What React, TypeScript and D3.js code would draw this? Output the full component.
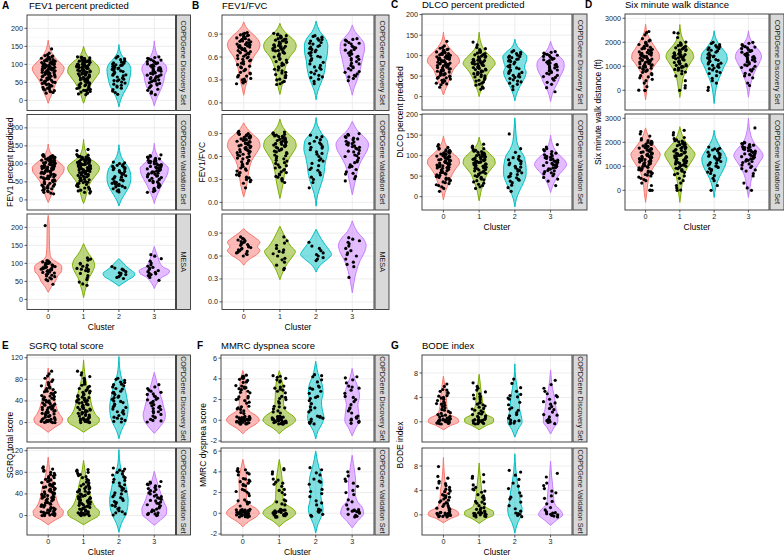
import React from "react";
import * as d3 from "d3";

const clusters = ["0", "1", "2", "3"];
const clusterColors = ["#F8766D", "#7CAE00", "#00BFC4", "#C77CFF"];
const stripLabels = ["COPDGene Discovery Set", "COPDGene Validation Set", "MESA"];

// ---------- A: FEV1 percent predicted ----------
const fev1Ticks = [0, 50, 100, 150, 200];
const fev1DiscDens = [
  [[-8,0],[5,0.1],[20,0.25],[35,0.38],[50,0.5],[65,0.72],[80,0.95],[90,1.0],[100,0.85],[115,0.5],[130,0.25],[145,0.1],[167,0]],
  [[-8,0],[5,0.1],[20,0.2],[35,0.35],[50,0.55],[65,0.8],[80,1.0],[92,0.95],[105,0.7],[120,0.3],[135,0.1],[150,0]],
  [[-18,0],[0,0.1],[20,0.3],[40,0.55],[55,0.65],[70,0.72],[85,0.75],[100,0.65],[115,0.35],[130,0.12],[155,0]],
  [[-15,0],[0,0.1],[20,0.3],[40,0.5],[55,0.6],[70,0.65],[85,0.78],[95,0.75],[110,0.45],[125,0.2],[140,0.08],[165,0]],
];
const fev1DiscPts = [
  [143,131,127,124,123,121,120,120,118,117,116,114,114,113,111,110,110,109,107,106,106,105,104,102,102,101,100,99,98,98,97,96,95,94,94,93,92,91,90,90,89,88,87,86,86,85,84,83,82,82,81,80,79,78,77,77,76,75,73,72,72,71,70,68,67,66,65,64,62,61,60,58,57,56,54,53,51,50,48,47,45,44,42,40,39,37,36,34,32,31,29,27,26,24,22,20],
  [121,120,119,118,116,116,115,114,112,112,111,110,109,108,107,106,106,105,104,103,102,101,100,100,99,98,97,96,95,95,94,93,92,91,90,89,89,88,87,86,85,84,84,83,82,81,80,79,78,77,76,75,74,73,72,71,70,69,67,66,65,64,62,61,60,59,57,56,54,53,52,50,49,47,46,44,43,41,40,38,36,35,33,31,30,28,27,25,23,21,20,18,16],
  [122,118,115,113,109,106,104,103,101,99,98,97,95,94,92,90,88,87,86,83,82,80,78,75,73,71,70,68,65,62,59,57,55,54,51,48,45,42,40,37,34,30,26,22,17],
  [121,119,117,115,113,112,110,108,107,105,104,102,101,99,97,96,95,93,91,90,88,87,85,84,83,81,80,78,76,75,73,71,70,68,66,65,63,61,60,57,55,54,52,49,47,46,43,41,38,35,31,28,24,20,16],
];
const fev1ValDens = [
  [[-7,0],[5,0.12],[20,0.25],[35,0.35],[50,0.5],[65,0.75],[80,0.98],[90,1.0],[100,0.8],[115,0.4],[130,0.15],[155,0]],
  [[-10,0],[5,0.12],[20,0.2],[35,0.3],[50,0.45],[65,0.7],[80,0.95],[90,1.0],[100,0.85],[115,0.4],[135,0.12],[168,0]],
  [[-17,0],[0,0.15],[15,0.35],[30,0.55],[45,0.7],[60,0.75],[75,0.72],[90,0.6],[105,0.35],[120,0.15],[153,0]],
  [[-10,0],[5,0.1],[20,0.25],[40,0.45],[60,0.7],[75,0.85],[88,0.88],[100,0.65],[115,0.3],[130,0.12],[157,0]],
];
const fev1ValPts = [
  [126,124,123,122,121,120,119,119,118,117,116,115,115,114,113,112,111,110,110,109,108,107,106,106,105,104,103,102,102,101,100,99,98,98,97,96,95,94,94,93,92,91,90,90,89,88,87,86,86,85,84,83,82,81,80,80,79,78,77,76,75,74,73,72,71,70,69,68,66,65,64,63,61,60,59,57,56,54,53,51,50,48,46,45,43,41,40,38,36,34,33,31,29,27,25,23,21,19,17],
  [140,137,126,124,122,121,120,119,118,117,116,115,114,113,113,112,111,110,109,108,108,107,106,105,104,103,103,102,101,100,99,98,98,97,96,95,94,93,93,92,91,90,89,88,88,87,86,85,84,83,82,81,80,79,78,77,76,75,74,73,72,71,70,68,67,66,64,63,62,60,59,57,56,54,53,51,49,48,46,44,43,41,39,37,35,33,31,29,27,25,23,21,19],
  [105,103,101,98,96,95,93,91,89,88,86,84,81,79,77,74,72,70,67,65,63,61,58,56,55,53,51,49,47,46,44,43,41,40,38,36,34,31,28,25,22],
  [125,123,121,119,117,115,114,112,110,109,107,106,104,103,101,100,98,97,96,94,93,91,90,88,87,86,84,83,81,80,78,77,75,74,72,71,69,67,66,64,62,60,58,56,54,52,50,48,45,43,40,38,35,32,29,26,23,21],
];
const fev1MesaDens = [
  [[20,0],[35,0.2],[50,0.45],[65,0.6],[80,0.85],[92,0.85],[102,0.6],[112,0.25],[125,0.12],[150,0.08],[180,0.07],[210,0.06],[233,0]],
  [[5,0],[20,0.07],[40,0.2],[60,0.35],[80,0.6],[95,0.7],[110,0.6],[125,0.35],[140,0.15],[155,0]],
  [[37,0],[45,0.25],[55,0.6],[65,0.95],[72,1.0],[80,0.8],[90,0.5],[100,0.3],[113,0]],
  [[30,0],[40,0.1],[50,0.25],[62,0.5],[72,0.9],[80,0.95],[90,0.55],[102,0.35],[115,0.25],[130,0.12],[147,0]],
];
const fev1MesaPts = [
  [205,108,106,104,103,101,100,99,97,96,95,94,92,91,90,89,88,87,86,85,84,83,82,80,79,78,76,75,73,71,69,67,65,63,60,57,55,52,42],
  [115,112,109,100,98,95,92,88,86,84,83,80,78,72,66,60,55,48,43,39],
  [91,87,84,81,77,74,72,69,67,63,61,58],
  [124,120,113,106,101,96,92,89,86,83,80,77,75,73,71,69,66,61,53],
];

// ---------- B: FEV1/FVC ----------
const ratioTicks = [0, 0.3, 0.6, 0.9];
const ratioDiscDens = [
  [[0.1,0],[0.2,0.1],[0.3,0.22],[0.4,0.3],[0.5,0.4],[0.6,0.6],[0.7,0.92],[0.76,1.0],[0.85,0.8],[0.92,0.45],[1.0,0.12],[1.06,0]],
  [[0.11,0],[0.2,0.1],[0.3,0.2],[0.4,0.27],[0.5,0.38],[0.6,0.6],[0.7,0.95],[0.75,1.0],[0.82,0.85],[0.9,0.45],[0.97,0.15],[1.04,0]],
  [[0.04,0],[0.15,0.1],[0.25,0.28],[0.35,0.45],[0.45,0.55],[0.55,0.6],[0.65,0.7],[0.75,0.72],[0.85,0.55],[0.93,0.25],[1.07,0]],
  [[0.1,0],[0.2,0.12],[0.3,0.3],[0.4,0.45],[0.5,0.55],[0.6,0.65],[0.7,0.75],[0.78,0.72],[0.86,0.45],[0.93,0.18],[1.02,0]],
];
const ratioDiscPts = [
  [0.92,0.91,0.9,0.89,0.885,0.88,0.87,0.865,0.86,0.85,0.845,0.84,0.83,0.825,0.82,0.81,0.805,0.8,0.79,0.785,0.78,0.77,0.765,0.76,0.75,0.745,0.74,0.73,0.725,0.72,0.71,0.705,0.7,0.69,0.685,0.68,0.67,0.66,0.655,0.65,0.64,0.63,0.62,0.61,0.6,0.59,0.58,0.57,0.56,0.55,0.54,0.52,0.51,0.5,0.48,0.47,0.46,0.44,0.43,0.42,0.4,0.39,0.38,0.36,0.35,0.34,0.32,0.31,0.3,0.28,0.27,0.26,0.25],
  [0.91,0.9,0.89,0.88,0.875,0.87,0.86,0.855,0.85,0.84,0.835,0.83,0.82,0.815,0.81,0.8,0.795,0.79,0.78,0.775,0.77,0.76,0.755,0.75,0.74,0.735,0.73,0.72,0.715,0.71,0.7,0.69,0.685,0.68,0.67,0.66,0.65,0.64,0.63,0.62,0.61,0.6,0.58,0.57,0.56,0.54,0.53,0.52,0.5,0.49,0.47,0.46,0.44,0.43,0.42,0.4,0.39,0.37,0.36,0.34,0.33,0.31,0.3,0.28,0.27,0.25,0.24],
  [0.88,0.87,0.86,0.84,0.83,0.82,0.81,0.79,0.78,0.77,0.75,0.74,0.73,0.71,0.7,0.69,0.67,0.66,0.65,0.62,0.61,0.6,0.58,0.56,0.55,0.53,0.51,0.49,0.47,0.46,0.44,0.42,0.4,0.38,0.36,0.34,0.33,0.31,0.28,0.25],
  [0.84,0.83,0.82,0.81,0.79,0.78,0.77,0.76,0.74,0.73,0.72,0.7,0.69,0.68,0.66,0.65,0.64,0.62,0.61,0.6,0.58,0.57,0.56,0.54,0.52,0.51,0.49,0.47,0.46,0.45,0.43,0.41,0.4,0.38,0.36,0.35,0.34,0.32,0.29],
];
const ratioValDens = [
  [[0.07,0],[0.15,0.1],[0.25,0.2],[0.35,0.27],[0.45,0.35],[0.55,0.5],[0.65,0.8],[0.74,1.0],[0.82,0.9],[0.9,0.5],[0.97,0.2],[1.04,0]],
  [[0.05,0],[0.15,0.1],[0.25,0.2],[0.35,0.27],[0.45,0.35],[0.55,0.5],[0.65,0.8],[0.74,1.0],[0.82,0.9],[0.9,0.5],[0.98,0.2],[1.09,0]],
  [[-0.05,0],[0.1,0.1],[0.2,0.25],[0.3,0.4],[0.4,0.5],[0.5,0.55],[0.6,0.65],[0.7,0.75],[0.8,0.7],[0.9,0.35],[1.0,0.1],[1.11,0]],
  [[0.1,0],[0.2,0.1],[0.3,0.2],[0.4,0.3],[0.5,0.45],[0.6,0.7],[0.7,0.95],[0.76,1.0],[0.84,0.8],[0.92,0.4],[1.06,0]],
];
const ratioValPts = [
  [0.93,0.91,0.9,0.895,0.89,0.88,0.875,0.87,0.86,0.855,0.85,0.84,0.835,0.83,0.82,0.815,0.81,0.8,0.795,0.79,0.78,0.775,0.77,0.76,0.755,0.75,0.74,0.735,0.73,0.72,0.715,0.71,0.7,0.695,0.69,0.68,0.67,0.665,0.66,0.65,0.64,0.63,0.62,0.61,0.6,0.59,0.58,0.57,0.55,0.54,0.53,0.51,0.5,0.48,0.47,0.45,0.44,0.42,0.41,0.39,0.38,0.36,0.35,0.33,0.32,0.3,0.29,0.27,0.25,0.19],
  [0.92,0.91,0.9,0.89,0.885,0.88,0.87,0.865,0.86,0.85,0.845,0.84,0.83,0.825,0.82,0.81,0.805,0.8,0.79,0.785,0.78,0.77,0.765,0.76,0.75,0.745,0.74,0.73,0.72,0.71,0.7,0.69,0.68,0.67,0.66,0.65,0.64,0.62,0.61,0.6,0.58,0.57,0.55,0.54,0.52,0.51,0.49,0.48,0.46,0.45,0.43,0.42,0.4,0.39,0.37,0.36,0.34,0.33,0.31,0.3,0.28,0.26],
  [0.88,0.86,0.85,0.82,0.8,0.78,0.77,0.76,0.73,0.72,0.71,0.69,0.66,0.64,0.63,0.6,0.57,0.55,0.54,0.51,0.48,0.45,0.43,0.42,0.39,0.36,0.33,0.3,0.26,0.19],
  [0.9,0.89,0.88,0.86,0.85,0.84,0.83,0.82,0.8,0.79,0.78,0.77,0.76,0.75,0.74,0.73,0.72,0.71,0.7,0.68,0.67,0.66,0.64,0.62,0.61,0.6,0.58,0.55,0.53,0.52,0.49,0.47,0.46,0.43,0.4,0.38,0.37,0.34,0.31,0.28],
];
const ratioMesaDens = [
  [[0.48,0],[0.55,0.3],[0.62,0.8],[0.67,1.0],[0.72,0.85],[0.78,1.0],[0.84,0.7],[0.9,0.3],[0.96,0]],
  [[0.29,0],[0.4,0.2],[0.5,0.45],[0.6,0.8],[0.66,0.95],[0.72,0.7],[0.8,0.45],[0.9,0.2],[0.99,0]],
  [[0.39,0],[0.48,0.25],[0.56,0.7],[0.62,0.95],[0.68,0.8],[0.75,0.55],[0.83,0.3],[0.95,0]],
  [[0.12,0],[0.25,0.1],[0.4,0.25],[0.55,0.5],[0.65,0.75],[0.74,0.85],[0.82,0.7],[0.92,0.3],[1.06,0]],
];
const ratioMesaPts = [
  [0.85,0.83,0.82,0.81,0.8,0.79,0.78,0.77,0.76,0.75,0.74,0.73,0.72,0.71,0.7,0.69,0.68,0.67,0.66,0.65,0.64,0.63,0.62,0.6],
  [0.85,0.8,0.77,0.74,0.7,0.68,0.66,0.65,0.63,0.6,0.57,0.55,0.52,0.48,0.44,0.42],
  [0.78,0.73,0.7,0.67,0.64,0.62,0.6,0.58,0.56,0.54],
  [0.84,0.82,0.8,0.78,0.76,0.73,0.7,0.67,0.64,0.62,0.6,0.56,0.52,0.49,0.46,0.32],
];

// ---------- C: DLCO percent predicted ----------
const dlcoTicks = [0, 50, 100, 150, 200];
const dlcoDiscDens = [
  [[4,0],[15,0.1],[30,0.25],[45,0.4],[55,0.5],[65,0.6],[75,0.8],[85,1.0],[95,0.95],[105,0.7],[120,0.35],[135,0.12],[157,0]],
  [[0,0],[15,0.1],[30,0.25],[45,0.4],[60,0.6],[72,0.85],[80,1.0],[90,0.9],[100,0.65],[115,0.3],[130,0.12],[157,0]],
  [[-10,0],[5,0.1],[20,0.25],[35,0.45],[50,0.65],[60,0.7],[72,0.6],[85,0.7],[97,0.75],[108,0.55],[120,0.2],[140,0]],
  [[-12,0],[5,0.1],[20,0.25],[35,0.45],[50,0.6],[65,0.8],[78,0.85],[90,0.75],[100,0.5],[115,0.2],[135,0]],
];
const dlcoDiscPts = [
  [135,124,120,118,116,115,113,112,110,109,108,107,106,105,104,103,102,101,100,99,98,97,96,95,94,93,92,91,90,89,88,87,86,85,84,83,82,81,80,79,78,77,76,75,73,72,71,70,68,67,66,64,63,62,60,59,57,56,55,53,52,50,49,47,46,45,43,41,40,38,36,34,33,31,29,23],
  [133,126,120,117,115,112,111,109,108,106,105,103,102,101,99,98,97,96,94,93,92,91,90,89,88,87,86,85,84,83,82,81,80,79,78,77,76,75,74,73,72,71,70,69,67,66,65,63,62,60,59,57,56,54,53,51,49,48,46,44,42,40,38,36,33,30,28,24,21,18],
  [112,109,108,105,104,101,99,98,96,95,92,91,89,87,86,84,80,77,74,72,70,68,65,63,61,59,57,55,52,50,48,47,44,41,38,36,33,30,25,17],
  [110,108,106,104,103,101,100,98,96,94,93,91,90,88,86,84,82,80,79,77,75,73,71,70,67,65,63,61,59,57,55,52,49,47,44,40,35,30,22,12],
];
const dlcoValDens = [
  [[-8,0],[10,0.1],[25,0.25],[40,0.4],[55,0.55],[70,0.8],[82,1.0],[92,0.95],[105,0.6],[120,0.25],[148,0]],
  [[-10,0],[10,0.1],[25,0.2],[40,0.35],[55,0.5],[70,0.8],[82,1.0],[92,0.95],[105,0.65],[120,0.25],[145,0]],
  [[-25,0],[-5,0.1],[15,0.3],[35,0.55],[55,0.7],[70,0.7],[85,0.65],[100,0.55],[115,0.3],[135,0.12],[160,0.06],[192,0]],
  [[10,0],[25,0.12],[40,0.3],[55,0.55],[68,0.85],[78,1.0],[90,0.85],[105,0.45],[120,0.2],[150,0]],
];
const dlcoValPts = [
  [127,123,120,118,116,114,113,111,110,108,107,106,105,104,103,101,100,99,98,97,96,95,94,93,92,91,90,89,88,87,86,85,84,83,82,81,80,79,78,77,76,75,74,73,72,71,70,69,67,66,65,63,62,61,59,58,56,55,53,52,50,49,47,45,44,42,40,38,36,34,32,29,27,24,20,13],
  [128,123,120,117,115,113,111,110,108,107,106,104,103,102,101,100,99,98,97,96,95,94,93,92,91,90,89,88,87,86,85,84,83,82,81,80,79,78,77,76,75,74,73,72,70,69,68,66,65,63,62,60,58,57,55,53,51,49,47,45,43,41,39,36,33,30,27,24,20],
  [153,117,108,98,95,92,90,88,86,82,80,78,74,72,70,66,64,62,58,56,54,50,48,46,42,40,38,34,28,22,13],
  [127,121,117,115,112,110,106,104,102,100,98,96,95,93,92,90,89,87,86,84,83,81,80,78,77,76,74,72,71,70,68,67,64,63,61,58,56,55,51,47,43,38,27],
];

// ---------- D: Six minute walk distance ----------
const walkTicks = [0, 1000, 2000, 3000];
const walkDiscDens = [
  [[-400,0],[0,0.08],[400,0.15],[800,0.35],[1100,0.65],[1350,0.9],[1500,0.88],[1700,0.7],[2000,0.4],[2300,0.15],[2760,0]],
  [[-300,0],[100,0.1],[500,0.2],[900,0.45],[1200,0.75],[1400,0.9],[1600,0.8],[1900,0.4],[2200,0.15],[2740,0]],
  [[-550,0],[-100,0.08],[300,0.2],[700,0.45],[1000,0.65],[1300,0.85],[1500,0.8],[1800,0.45],[2100,0.15],[2480,0]],
  [[-290,0],[200,0.12],[600,0.3],[900,0.5],[1200,0.75],[1400,0.85],[1600,0.75],[1900,0.35],[2150,0.12],[2480,0]],
];
const walkDiscPts = [
  [2450,2400,2310,2150,2090,2060,2000,1970,1940,1910,1890,1860,1830,1790,1770,1750,1730,1710,1680,1650,1630,1600,1580,1570,1540,1520,1500,1470,1450,1440,1420,1400,1380,1370,1340,1320,1300,1270,1250,1240,1220,1200,1180,1170,1140,1120,1100,1080,1060,1030,1010,1000,970,950,920,890,870,850,820,790,750,700,650,610,560,520,460,400,300,150,0,-10,5],
  [2400,2380,2200,2010,1980,1950,1920,1900,1880,1860,1830,1790,1770,1750,1720,1700,1680,1660,1630,1600,1580,1560,1540,1510,1490,1480,1460,1430,1410,1400,1380,1370,1350,1320,1300,1280,1260,1230,1210,1200,1180,1160,1130,1100,1070,1040,1020,1000,980,960,930,900,870,840,800,760,690,600,400,200,100,0],
  [2000,1950,1900,1860,1830,1800,1770,1740,1700,1670,1640,1590,1560,1500,1460,1430,1400,1370,1350,1310,1280,1250,1220,1200,1160,1130,1100,1070,1040,1000,960,930,900,850,790,740,700,610,500,400,300,120,0],
  [2000,1960,1900,1850,1820,1800,1770,1740,1700,1670,1650,1620,1590,1550,1520,1500,1470,1440,1400,1380,1360,1330,1300,1270,1250,1210,1180,1150,1100,1060,1030,1000,950,890,850,800,710,650,600,520,300,200],
];
const walkValDens = [
  [[-500,0],[-100,0.08],[300,0.15],[700,0.3],[1000,0.55],[1300,0.85],[1500,0.95],[1700,0.75],[2000,0.4],[2300,0.15],[2600,0]],
  [[-500,0],[-100,0.08],[300,0.15],[700,0.3],[1000,0.55],[1300,0.85],[1500,0.98],[1700,0.8],[2000,0.4],[2300,0.15],[2650,0]],
  [[-300,0],[100,0.1],[500,0.3],[800,0.55],[1100,0.75],[1300,0.8],[1500,0.7],[1800,0.4],[2100,0.15],[2500,0]],
  [[-300,0],[100,0.1],[500,0.2],[900,0.45],[1200,0.75],[1450,0.95],[1650,0.8],[1950,0.4],[2300,0.15],[3000,0]],
];
const walkValPts = [
  [2450,2350,2260,2150,2100,2070,2040,2000,1980,1950,1930,1910,1880,1850,1830,1800,1780,1760,1740,1720,1700,1690,1670,1640,1620,1600,1580,1560,1540,1510,1500,1480,1460,1440,1420,1400,1390,1370,1350,1320,1300,1280,1270,1250,1230,1200,1180,1160,1140,1110,1100,1080,1060,1040,1020,1000,980,960,940,910,880,860,840,800,770,750,720,700,660,630,600,550,500,450,400,300,200,0,0,10],
  [2500,2400,2310,2200,2150,2100,2070,2050,2020,2000,1970,1950,1920,1900,1880,1860,1830,1800,1780,1750,1730,1700,1680,1660,1630,1600,1580,1560,1540,1520,1500,1470,1450,1440,1420,1400,1380,1360,1330,1310,1280,1260,1240,1220,1200,1180,1160,1140,1120,1100,1080,1050,1030,1000,980,950,920,900,860,830,800,750,700,650,600,500,400,300,200,100,0,10],
  [1800,1750,1730,1710,1680,1650,1590,1550,1510,1480,1450,1420,1400,1370,1350,1310,1280,1250,1200,1160,1130,1100,1050,1010,980,950,900,860,800,760,700,610,500,400,200,0],
  [2600,2000,1980,1950,1930,1910,1880,1850,1820,1800,1780,1760,1730,1700,1680,1650,1630,1610,1580,1550,1520,1500,1480,1460,1430,1400,1380,1350,1330,1310,1280,1250,1220,1200,1160,1100,1050,1000,950,900,850,800,700,600,300,100,0],
];

// ---------- E: SGRQ total score ----------
const sgrqTicks = [0, 40, 80, 120];
const sgrqDiscDens = [
  [[-18,0],[-8,0.45],[0,0.85],[7,0.9],[15,0.72],[25,0.55],[40,0.42],[55,0.3],[70,0.15],[85,0.08],[101,0]],
  [[-18,0],[-8,0.5],[0,0.95],[6,1.0],[15,0.75],[25,0.58],[40,0.45],[55,0.35],[70,0.2],[90,0.08],[116,0]],
  [[-30,0],[-15,0.15],[0,0.4],[15,0.55],[30,0.58],[45,0.5],[60,0.4],[75,0.25],[90,0.1],[122,0]],
  [[-20,0],[-8,0.35],[5,0.65],[15,0.7],[25,0.62],[40,0.5],[55,0.35],[70,0.2],[93,0]],
];
const sgrqDiscPts = [
  [95,90,86,82,79,76,74,72,70,68,66,64,63,61,60,58,57,56,54,53,52,50,49,48,47,45,44,43,42,41,40,39,38,37,36,35,34,33,32,31,30,29,28,27,26,25,24,23,22,21,20,19,18,17,16,15,14,13,12,11,10,9,8,7,6,6,5,4,4,3,3,2,2,1,1,0.5,0,0],
  [95,92,88,85,82,79,76,74,71,69,67,65,63,61,59,58,56,55,53,52,51,50,48,47,46,45,43,42,41,40,39,38,37,36,35,34,33,32,31,30,29,28,27,26,25,24,23,22,21,20,19,18,17,16,15,14,13,12,11,10,9,8,7,6,5,5,4,3,3,2,2,1,1,0,0],
  [82,80,78,75,74,71,70,68,66,63,62,58,56,55,52,49,47,46,43,40,39,37,34,31,29,28,25,22,20,19,16,13,10,8,7,4,2,1],
  [70,66,63,60,58,56,53,52,49,48,45,43,42,39,37,36,33,31,30,28,26,24,21,20,18,15,12,10,9,6,4,3,1],
];
const sgrqValDens = [
  [[-17,0],[-8,0.45],[0,0.9],[8,0.95],[15,0.75],[25,0.58],[40,0.45],[55,0.35],[70,0.2],[85,0.1],[108,0]],
  [[-17,0],[-8,0.5],[0,0.95],[7,1.0],[15,0.75],[25,0.55],[40,0.4],[55,0.3],[70,0.18],[85,0.08],[102,0]],
  [[-31,0],[-15,0.15],[0,0.4],[15,0.55],[30,0.58],[45,0.5],[60,0.4],[75,0.25],[90,0.1],[122,0]],
  [[-18,0],[-8,0.4],[2,0.75],[12,0.78],[25,0.6],[40,0.42],[55,0.25],[70,0.1],[82,0]],
];
const sgrqValPts = [
  [90,88,86,84,82,80,78,76,75,73,72,70,69,67,66,64,63,61,60,59,58,57,56,55,54,53,52,51,50,49,48,47,46,45,44,43,42,41,40,39,38,37,36,35,34,33,32,31,30,29,28,27,26,25,24,23,22,21,20,19,18,17,16,15,14,13,12,11,10,9,8,7,6,5,5,4,4,3,3,2,2,1,1,0,0,0],
  [85,84,82,80,78,76,74,72,70,67,65,62,60,58,57,55,54,53,51,50,49,48,46,45,44,43,42,41,40,39,38,37,36,35,34,33,32,31,30,29,28,27,26,25,24,23,22,21,20,19,18,17,16,15,14,13,12,11,10,9,8,7,6,5,4,4,3,3,2,2,1,1,0,0],
  [88,86,84,82,80,77,75,72,70,67,65,62,60,57,55,52,50,47,45,42,40,38,35,33,31,28,26,24,22,19,17,14,12,9,7,5,3,1],
  [63,62,60,58,57,55,54,52,50,48,46,44,42,40,38,36,35,33,32,30,28,27,25,23,22,20,18,16,14,12,10,9,7,5,4,3,2,1,0],
];

// ---------- F: MMRC dyspnea score ----------
const mmrcTicks = [-2, 0, 2, 4, 6];
const mmrcDiscDens = [
  [[-1.3,0],[-0.8,0.35],[-0.3,0.85],[0,1.0],[0.4,0.85],[0.9,0.38],[1.5,0.22],[2.5,0.2],[3.5,0.18],[4.2,0.1],[4.8,0]],
  [[-1.3,0],[-0.8,0.35],[-0.3,0.85],[0,1.0],[0.4,0.85],[0.9,0.42],[1.5,0.27],[2.5,0.24],[3.5,0.2],[4.2,0.1],[4.8,0]],
  [[-1.8,0],[-1,0.15],[-0.3,0.4],[0.3,0.5],[1,0.4],[1.8,0.35],[2.6,0.45],[3.4,0.4],[4.2,0.2],[5.7,0]],
  [[-1.5,0],[-0.8,0.2],[0,0.45],[0.8,0.4],[1.5,0.35],[2.3,0.45],[3.2,0.35],[4,0.15],[5,0]],
];
const mmrcDiscPts = [
  [4.35,4.2,4.1,3.95,3.85,3.7,4.25,3.65,4.05,3.35,3.2,3.1,2.95,2.8,2.7,3.3,3.05,2.65,3.15,2.3,2.15,2.0,1.9,1.75,2.25,1.65,2.05,1.35,1.2,1.05,0.9,0.75,1.3,0.65,1.1,0.38,0.3,0.22,0.15,0.08,0.02,-0.05,-0.12,-0.2,-0.28,-0.35,0.33,0.25,0.18,0.1,0.04,-0.02,-0.09,-0.16,-0.24,-0.31,-0.38,0.28,0.12,-0.07,-0.22,0.36,0.06,-0.14,-0.33],
  [4.3,4.15,3.9,4.05,3.7,4.25,3.8,3.2,3.0,2.8,2.65,3.3,3.1,2.9,2.3,2.0,1.8,2.2,1.65,2.1,1.3,1.1,0.8,0.9,1.2,0.7,1.35,0.38,0.3,0.22,0.15,0.08,0.02,-0.05,-0.12,-0.2,-0.28,-0.35,0.33,0.25,0.18,0.1,0.04,-0.02,-0.09,-0.16,-0.24,-0.31,-0.38,0.28,0.12,-0.07,-0.22,0.36,0.06,-0.14,-0.33],
  [4.4,4.2,3.9,3.7,4.3,3.3,3.1,2.8,2.6,3.0,3.2,2.3,2.1,1.9,1.6,2.2,1.2,1.0,0.8,1.3,0.4,0.3,0.1,-0.1,-0.3,0.2,-0.2,0.35,-0.35],
  [4.2,3.9,4.1,3.6,3.3,3.1,2.9,2.6,3.2,2.2,2.0,1.8,2.3,1.5,1.2,0.9,0.7,1.1,0.4,0.2,0.0,-0.2,-0.3,0.3,0.1,-0.1],
];
const mmrcValDens = [
  [[-1.3,0],[-0.8,0.35],[-0.3,0.85],[0,1.0],[0.4,0.85],[0.9,0.38],[1.5,0.22],[2.5,0.22],[3.2,0.24],[4,0.16],[5.2,0]],
  [[-1.3,0],[-0.8,0.35],[-0.3,0.85],[0,1.0],[0.4,0.85],[0.9,0.38],[1.5,0.22],[2.5,0.2],[3.5,0.16],[4.2,0.1],[5.2,0]],
  [[-1.9,0],[-1,0.15],[-0.3,0.35],[0.4,0.45],[1.2,0.35],[2,0.3],[2.8,0.4],[3.6,0.35],[4.4,0.2],[6,0]],
  [[-1.4,0],[-0.8,0.3],[0,0.7],[0.6,0.6],[1.2,0.3],[2,0.2],[3,0.22],[4,0.15],[5.6,0]],
];
const mmrcValPts = [
  [4.3,4.1,3.9,4.0,3.7,4.2,3.8,3.3,3.1,2.9,2.7,3.2,2.8,3.05,2.65,3.35,2.3,2.1,1.9,1.7,2.2,2.05,1.3,1.1,0.9,0.7,1.2,1.05,0.38,0.3,0.22,0.15,0.08,0.02,-0.05,-0.12,-0.2,-0.28,-0.35,0.33,0.25,0.18,0.1,0.04,-0.02,-0.09,-0.16,-0.24,-0.31,-0.38,0.28,0.12,-0.07,-0.22,0.36,0.06,-0.14,-0.33],
  [4.3,4.0,3.8,4.2,3.3,3.0,2.8,2.6,3.2,2.9,2.3,2.0,1.8,2.2,1.3,1.1,0.8,0.9,1.2,0.38,0.3,0.22,0.15,0.08,0.02,-0.05,-0.12,-0.2,-0.28,-0.35,0.33,0.25,0.18,0.1,0.04,-0.02,-0.09,-0.16,-0.24,-0.31,-0.38,0.28,0.12,-0.07,-0.22],
  [4.4,4.2,3.9,3.7,3.3,3.1,2.8,3.0,2.3,2.1,1.9,1.6,1.2,1.0,0.8,0.4,0.3,0.1,-0.1,-0.3,0.2,-0.2],
  [4.3,4.0,3.6,3.3,3.1,2.9,2.6,2.2,2.0,1.8,1.3,1.1,0.8,0.4,0.3,0.2,0.0,-0.2,-0.3,0.1,-0.1,0.25,0.35,-0.35,0.15],
];

// ---------- G: BODE index ----------
const bodeTicks = [0, 4, 8];
const bodeDiscDens = [
  [[-1.3,0],[-0.6,0.45],[0,0.95],[0.5,0.9],[1.2,0.4],[2,0.25],[3,0.2],[4,0.18],[5,0.12],[6,0.08],[7.5,0]],
  [[-1.3,0],[-0.6,0.45],[0,0.9],[0.5,0.9],[1.2,0.45],[2,0.3],[3,0.22],[4,0.18],[5,0.12],[6,0.08],[7.8,0]],
  [[-2.5,0],[-1.2,0.2],[0,0.45],[1,0.4],[2,0.3],[3,0.28],[4,0.25],[5.5,0.15],[7,0.06],[9.5,0]],
  [[-2,0],[-1,0.2],[0,0.45],[1,0.45],[2,0.35],[3,0.3],[4,0.25],[5.5,0.12],[7,0.05],[8.5,0]],
];
const bodeDiscPts = [
  [6.2,5.8,5.3,5.0,4.7,4.3,4.0,3.7,3.3,3.0,2.7,2.3,2.0,1.7,1.4,1.0,0.8,0.5,0.3,0.1,0,-0.2,0.2,0.4,-0.3,0.6,0.15,-0.1,4.2,3.9,3.1,2.9,2.1,1.9,1.2,1.1,0.9,0.35,0.25,-0.05,-0.25,0.05,-0.15,0.3,4.8,5.2,3.5,2.5,1.5,0.7,0.45,-0.35],
  [6.4,5.8,5.2,4.9,4.6,4.2,3.9,3.6,3.2,2.9,2.6,2.2,1.9,1.6,1.3,1.0,0.7,0.5,0.3,0.1,0,-0.2,0.2,-0.3,0.4,4.1,3.8,3.1,2.8,2.1,1.8,1.2,0.9,0.35,0.25,-0.05,-0.25,0.05,-0.15,0.3,5.5,4.4,2.4,1.4,0.8,-0.35],
  [7.0,6.3,5.6,5.0,4.5,4.1,3.7,3.2,2.8,2.3,1.9,1.5,1.0,0.6,0.3,0.1,-0.2,4.3,3.9,2.1,1.2,0.2,-0.1,-0.3],
  [6.8,6.1,5.5,5.0,4.6,4.1,3.7,3.3,2.9,2.5,2.0,1.6,1.2,0.8,0.4,0.2,0,-0.1,4.3,3.1,2.2,1.1,0.3,-0.3],
];
const bodeValDens = [
  [[-1.3,0],[-0.6,0.45],[0,0.95],[0.5,0.9],[1.2,0.4],[2,0.25],[3,0.2],[4,0.18],[5,0.12],[6.5,0.06],[9.4,0]],
  [[-1.4,0],[-0.6,0.45],[0,0.9],[0.5,0.9],[1.2,0.45],[2,0.28],[3,0.2],[4,0.16],[5,0.12],[6.5,0.06],[8.5,0]],
  [[-3,0],[-1.5,0.15],[0,0.4],[1,0.45],[2,0.35],[3,0.3],[4,0.25],[5.5,0.15],[7.5,0.06],[10,0]],
  [[-1.7,0],[-0.8,0.4],[0,0.75],[0.8,0.6],[1.6,0.3],[2.5,0.2],[3.5,0.18],[5,0.12],[6.5,0.06],[8.8,0]],
];
const bodeValPts = [
  [7.9,6.3,6.0,5.5,5.2,4.8,4.5,4.2,3.9,3.5,3.2,2.9,2.6,2.3,2.0,1.7,1.4,1.1,0.8,0.5,0.3,0.1,0,-0.2,0.2,0.4,-0.3,0.15,-0.1,5.1,4.1,3.8,3.1,2.8,2.1,1.9,1.2,0.9,0.35,0.25,-0.05,-0.25,0.05,-0.15,0.3,-0.35,4.4,3.3,2.4,1.5],
  [6.6,6.3,6.0,5.4,4.9,4.5,4.1,3.7,3.3,2.9,2.5,2.1,1.8,1.5,1.2,0.9,0.6,0.3,0.1,0,-0.2,0.2,-0.1,0.4,4.2,3.9,3.1,2.8,2.2,1.9,1.1,0.8,0.35,0.25,-0.05,-0.25,0.05,-0.15,0.3,-0.35],
  [7.3,7.0,6.5,5.8,5.2,4.7,4.3,3.6,3.1,2.6,2.1,1.5,1.0,0.6,0.3,-0.1,0.1,0.2,-0.3,2.9],
  [6.8,6.2,5.2,4.8,4.3,3.9,3.6,3.1,2.7,2.2,1.8,1.2,0.8,0.5,0.3,0.1,0,-0.2,0.35,-0.35,0.2,-0.1],
];

const FONT = "'Liberation Sans', Arial, Helvetica, sans-serif";

type RowData = { dens: number[][][]; pts: number[][] };

function jit(i: number, k: number) {
  const s = Math.sin((i + 1) * 12.9898 + (k + 1) * 78.233) * 43758.5453;
  return s - Math.floor(s) - 0.5;
}

function Chart({ spec }: { spec: any }) {
  const { x0, x1, top, h, gap, domain, ticks, fmt, rows } = spec;
  const x = d3.scalePoint<string>().domain(clusters).range([x0, x1]).padding(0.6);
  const band = x.step();
  const step = ticks[1] - ticks[0];
  const minor: number[] = [];
  for (let v = ticks[0] - step / 2; v < domain[1]; v += step) if (v > domain[0]) minor.push(v);
  const nRows = rows.length;
  const bottomAll = top + nRows * h + (nRows - 1) * gap;
  const out: any[] = [];
  rows.forEach((row: RowData, ri: number) => {
    const pt = top + ri * (h + gap);
    const pb = pt + h;
    const y = d3.scaleLinear().domain(domain).range([pb, pt]);
    const clipId = `clip-${spec.letter}-${ri}`;
    out.push(
      <g key={`r${ri}`}>
        <defs>
          <clipPath id={clipId}>
            <rect x={x0} y={pt} width={x1 - x0} height={h} />
          </clipPath>
        </defs>
        <rect x={x0} y={pt} width={x1 - x0} height={h} fill="#fff" />
        <g clipPath={`url(#${clipId})`}>
          {minor.map((v) => (
            <line key={`mn${v}`} x1={x0} x2={x1} y1={y(v)} y2={y(v)} stroke="#f2f2f2" strokeWidth={0.5} />
          ))}
          {ticks.map((v: number) => (
            <line key={`mj${v}`} x1={x0} x2={x1} y1={y(v)} y2={y(v)} stroke="#ebebeb" strokeWidth={0.9} />
          ))}
          {clusters.map((c) => (
            <line key={`vx${c}`} x1={x(c)} x2={x(c)} y1={pt} y2={pb} stroke="#ebebeb" strokeWidth={0.9} />
          ))}
          {row.dens.map((prof, ci) => {
            const cx = x(clusters[ci]) as number;
            const area = d3
              .area<number[]>()
              .y((d) => y(d[0]))
              .x0((d) => cx - d[1] * band * 0.45)
              .x1((d) => cx + d[1] * band * 0.45)
              .curve(d3.curveMonotoneY);
            return (
              <path
                key={`v${ci}`}
                d={area(prof) || ""}
                fill={clusterColors[ci]}
                fillOpacity={0.5}
                stroke={clusterColors[ci]}
                strokeWidth={1}
              />
            );
          })}
          {row.pts.map((vals, ci) => {
            const cx = x(clusters[ci]) as number;
            return vals.map((v, i) => (
              <circle
                key={`p${ci}-${i}`}
                cx={cx + jit(i, ci + ri * 4) * 2 * 0.2 * band}
                cy={y(v)}
                r={1.6}
                fill="#000"
              />
            ));
          })}
        </g>
        <rect x={x0} y={pt} width={x1 - x0} height={h} fill="none" stroke="#333" strokeWidth={0.9} />
        <rect x={x1 + 1} y={pt} width={14} height={h} fill="#d9d9d9" stroke="#333" strokeWidth={0.9} />
        <text
          transform={`translate(${x1 + 8},${pt + h / 2}) rotate(90)`}
          textAnchor="middle"
          dominantBaseline="central"
          fontSize={7.2}
          fill="#1a1a1a"
          fontFamily={FONT}
        >
          {stripLabels[ri]}
        </text>
        {ticks.map((v: number) => (
          <g key={`t${v}`}>
            <line x1={x0 - 2.5} x2={x0} y1={y(v)} y2={y(v)} stroke="#333" strokeWidth={0.8} />
            <text x={x0 - 4} y={y(v)} textAnchor="end" dominantBaseline="central" fontSize={7.2} fill="#222" fontFamily={FONT}>
              {fmt(v)}
            </text>
          </g>
        ))}
      </g>
    );
  });
  out.push(
    <g key="xa">
      {clusters.map((c) => (
        <g key={`xt${c}`}>
          <line x1={x(c)} x2={x(c)} y1={bottomAll} y2={bottomAll + 2.5} stroke="#333" strokeWidth={0.8} />
          <text x={x(c)} y={bottomAll + 9} textAnchor="middle" fontSize={7.2} fill="#222" fontFamily={FONT}>
            {c}
          </text>
        </g>
      ))}
      <text x={(x0 + x1) / 2} y={bottomAll + 20} textAnchor="middle" fontSize={8.5} fill="#000" fontFamily={FONT}>
        Cluster
      </text>
      <text
        transform={`translate(${spec.yTitleX},${(top + bottomAll) / 2}) rotate(-90)`}
        textAnchor="middle"
        dominantBaseline="central"
        fontSize={8.5}
        fill="#000"
        fontFamily={FONT}
      >
        {spec.yTitle}
      </text>
      <text x={spec.letterX} y={top - 6} fontSize={10} fontWeight="bold" fill="#000" fontFamily={FONT}>
        {spec.letter}
      </text>
      <text x={spec.titleX} y={top - 6} fontSize={9.5} fill="#000" fontFamily={FONT}>
        {spec.title}
      </text>
    </g>
  );
  return <g>{out}</g>;
}

export default function App() {
  const num = (v: number) => String(v);
  const f1 = d3.format(".1f");
  const specs = [
    { letter: "A", title: "FEV1 percent predicted", yTitle: "FEV1 percent predicted", letterX: 2, titleX: 29, yTitleX: 10,
      x0: 27, x1: 175.5, top: 15, h: 95.5, gap: 4, domain: [-28, 237], ticks: fev1Ticks, fmt: num,
      rows: [{ dens: fev1DiscDens, pts: fev1DiscPts }, { dens: fev1ValDens, pts: fev1ValPts }, { dens: fev1MesaDens, pts: fev1MesaPts }] },
    { letter: "B", title: "FEV1/FVC", yTitle: "FEV1/FVC", letterX: 192, titleX: 222, yTitleX: 202,
      x0: 222, x1: 374, top: 15, h: 95.5, gap: 4, domain: [-0.1, 1.15], ticks: ratioTicks, fmt: f1,
      rows: [{ dens: ratioDiscDens, pts: ratioDiscPts }, { dens: ratioValDens, pts: ratioValPts }, { dens: ratioMesaDens, pts: ratioMesaPts }] },
    { letter: "C", title: "DLCO percent predicted", yTitle: "DLCO percent predicted", letterX: 391, titleX: 422, yTitleX: 400,
      x0: 422, x1: 572, top: 14, h: 96, gap: 4, domain: [-32.5, 201.5], ticks: dlcoTicks, fmt: num,
      rows: [{ dens: dlcoDiscDens, pts: dlcoDiscPts }, { dens: dlcoValDens, pts: dlcoValPts }] },
    { letter: "D", title: "Six minute walk distance", yTitle: "Six minute walk distance (ft)", letterX: 585, titleX: 625, yTitleX: 598,
      x0: 625, x1: 769, top: 14, h: 96, gap: 4, domain: [-820, 3180], ticks: walkTicks, fmt: num,
      rows: [{ dens: walkDiscDens, pts: walkDiscPts }, { dens: walkValDens, pts: walkValPts }] },
    { letter: "E", title: "SGRQ total score", yTitle: "SGRQ total score", letterX: 2, titleX: 29, yTitleX: 10,
      x0: 27, x1: 175.5, top: 355, h: 87, gap: 6, domain: [-36, 125], ticks: sgrqTicks, fmt: num,
      rows: [{ dens: sgrqDiscDens, pts: sgrqDiscPts }, { dens: sgrqValDens, pts: sgrqValPts }] },
    { letter: "F", title: "MMRC dyspnea score", yTitle: "MMRC dyspnea score", letterX: 197, titleX: 221, yTitleX: 203,
      x0: 221, x1: 374, top: 355, h: 87, gap: 6, domain: [-2.1, 6.3], ticks: mmrcTicks, fmt: num,
      rows: [{ dens: mmrcDiscDens, pts: mmrcDiscPts }, { dens: mmrcValDens, pts: mmrcValPts }] },
    { letter: "G", title: "BODE index", yTitle: "BODE index", letterX: 391, titleX: 422, yTitleX: 400,
      x0: 422, x1: 572, top: 355, h: 87, gap: 6, domain: [-3.3, 10.95], ticks: bodeTicks, fmt: num,
      rows: [{ dens: bodeDiscDens, pts: bodeDiscPts }, { dens: bodeValDens, pts: bodeValPts }] },
  ];
  return (
    <svg width={784} height={556} style={{ position: "absolute", left: 0, top: 0, background: "#fff" }}>
      <rect width={784} height={556} fill="#fff" />
      {specs.map((s) => (
        <Chart key={s.letter} spec={s} />
      ))}
    </svg>
  );
}
